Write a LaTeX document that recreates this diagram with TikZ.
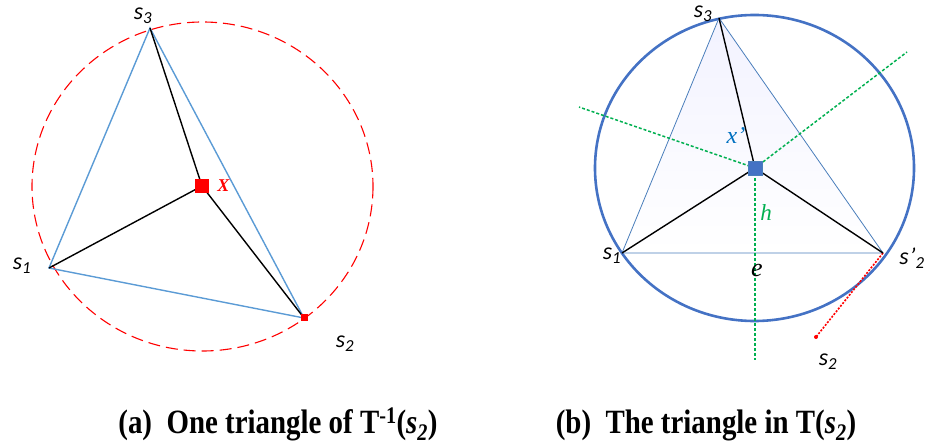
\documentclass[tikz,border=0pt]{standalone}
\usepackage{fontspec}
\usepackage{graphicx}
\setmainfont{Liberation Serif}
\newfontfamily\labfont{Carlito}
\usetikzlibrary{positioning}

\definecolor{circblue}{HTML}{4472C4}
\definecolor{edgeblue}{HTML}{5B9BD5}
\definecolor{thinblue}{HTML}{4A7EBB}
\definecolor{dotgreen}{HTML}{00B050}
\definecolor{xblue}{HTML}{0070C0}

\newcommand{\slabel}[1]{{\labfont\itshape s\textsubscript{#1}}}

\begin{document}
\begin{tikzpicture}[x=1pt, y=-1pt,
      redcirc/.style={red, line width=1.1pt, dash pattern=on 12pt off 6pt},
      bluecirc/.style={circblue, line width=2.6pt},
      tri/.style={edgeblue, line width=1.4pt},
      thintri/.style={thinblue, line width=0.8pt},
      spoke/.style={black, line width=1.4pt},
      perp/.style={dotgreen, line width=1.5pt, dash pattern=on 3pt off 2pt},
      redsq/.style={rectangle, fill=red, minimum size=14pt, inner sep=0pt},
      smallsq/.style={rectangle, fill=red, minimum size=7pt, inner sep=0pt},
      bluesq/.style={rectangle, fill=circblue, draw=thinblue, line width=0.6pt,
                     minimum size=14pt, inner sep=0pt},
      lab/.style={font=\fontsize{24}{24}\selectfont, inner sep=0pt},
      caption/.style={font=\fontsize{34}{34}\selectfont\bfseries, anchor=base},
    ]
    \useasboundingbox (0,0) rectangle (927,446);

    % Left: one triangle of T^-1(s2)
    \draw[redcirc] (202.5,186.5) circle [x radius=170.5, y radius=164.5];

    \coordinate (s3) at (150,28);
    \coordinate (s1) at (49,268);
    \node[redsq] (x) at (202,186) {};
    \node[smallsq] (s2) at (304,318) {};

    \draw[tri] (s1) -- (s3) -- (s2.center) -- cycle;
    \draw[spoke] (s1) -- (x.center);
    \draw[spoke] (s3) -- (x.center);
    \draw[spoke] (s2.center) -- (x.center);
    \node[redsq] at (x) {};
    \node[smallsq] at (s2) {};

    \node[lab] (l3) at (143,16) {\slabel{3}};
    \node[lab] (l1) at (22,266) {\slabel{1}};
    \node[lab] (l2) at (345,344) {\slabel{2}};
    \node[lab, right=8pt of x, text=red, font=\fontsize{18}{18}\selectfont\bfseries\itshape] (xl) {X};

    % Right: the triangle in T(s2)
    \coordinate (t3) at (719,18);
    \coordinate (t1) at (622,253);
    \coordinate (t2) at (883,253);
    \coordinate (x2) at (755,168);
    \coordinate (gl) at (579,107);
    \coordinate (gr) at (907,52);
    \coordinate (gb) at (755,360);
    \coordinate (s2far) at (816,337);

    \shade[top color=blue!5, bottom color=white] (t1) -- (t3) -- (t2) -- cycle;
    \draw[thintri] (t1) -- (t3) -- (t2) -- cycle;
    \draw[bluecirc] (754.5,168) circle [x radius=159.5, y radius=153];

    \draw[perp] (x2) -- (gl);
    \draw[perp] (x2) -- (gr);
    \draw[perp] (x2) -- (gb);
    \draw[red, line width=1.6pt, dash pattern=on 2pt off 1.5pt] (t2) -- (s2far);
    \fill[red] (s2far) circle (2);

    \draw[spoke] (t1) -- (x2);
    \draw[spoke] (t2) -- (x2);
    \draw[spoke] (t3) -- (x2);
    \node[bluesq] (xp) at (x2) {};

    \node[lab] (m3) at (703,14) {\slabel{3}};
    \node[lab] (m1) at (612,256) {\slabel{1}};
    \node[lab] (m2) at (912,258) {{\labfont\itshape s\kern1pt\textquoteright\textsubscript{2}}};
    \node[lab] (ms2) at (828,362) {\slabel{2}};
    \node[lab, text=xblue, font=\fontsize{24}{24}\selectfont\itshape] (xpl) at (736,136) {x\textquoteright};
    \node[lab, text=dotgreen, font=\fontsize{23}{23}\selectfont\itshape] (hl) at (766,213) {h};
    \node[lab, font=\fontsize{26}{26}\selectfont\itshape] (el) at (757,271) {e};

    % Captions
    \node[caption] (capa) at (278,433) {\scalebox{0.85}[1]{(a)\ \ One triangle of T\textsuperscript{-1}(\textit{s}\textsubscript{\textit{2}})}};
    \node[caption] (capb) at (706,433) {\scalebox{0.85}[1]{(b)\ \ The triangle in T(\textit{s}\textsubscript{\textit{2}})}};
  \end{tikzpicture}
\end{document}
